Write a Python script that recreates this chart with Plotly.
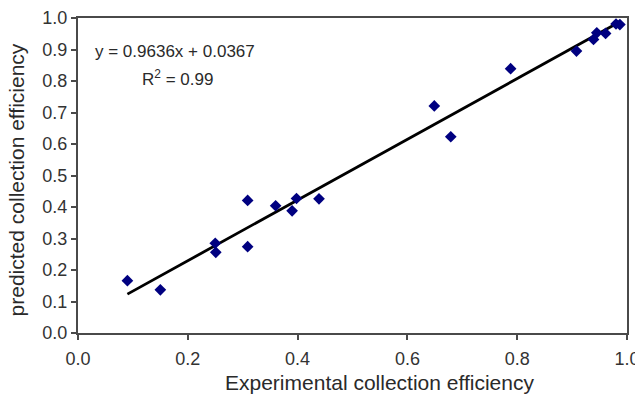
import plotly.graph_objects as go

# Data
experimental = [0.090, 0.150, 0.250, 0.251, 0.309, 0.309, 0.360, 0.390, 0.398, 0.439,
                0.649, 0.679, 0.788, 0.908, 0.939, 0.945, 0.961, 0.980, 0.987]
predicted = [0.166, 0.137, 0.285, 0.256, 0.421, 0.274, 0.404, 0.388, 0.427, 0.426,
             0.721, 0.623, 0.839, 0.895, 0.932, 0.953, 0.951, 0.981, 0.979]

slope = 0.9636
intercept = 0.0367
r_squared = 0.99

x_ticks = [0.0, 0.2, 0.4, 0.6, 0.8, 1.0]
y_ticks = [0.0, 0.1, 0.2, 0.3, 0.4, 0.5, 0.6, 0.7, 0.8, 0.9, 1.0]

x_title = "Experimental collection efficiency"
y_title = "predicted collection efficiency"

fit_x = [min(experimental), max(experimental)]
fit_y = [slope * v + intercept for v in fit_x]

fig = go.Figure()
fig.add_trace(go.Scatter(
    x=fit_x, y=fit_y, mode="lines",
    line=dict(color="black", width=2.8), hoverinfo="skip", showlegend=False,
))
fig.add_trace(go.Scatter(
    x=experimental, y=predicted, mode="markers",
    marker=dict(symbol="diamond", color="#000080", size=9),
    cliponaxis=False, showlegend=False,
))

text_color = "#2a2a2a"
fig.add_annotation(x=0.027, y=0.893, xref="x", yref="y", xanchor="left", yanchor="middle",
                   text=f"y = {slope}x + {intercept}", showarrow=False,
                   font=dict(size=17, color=text_color))
fig.add_annotation(x=0.181, y=0.81, xref="x", yref="y", xanchor="center", yanchor="middle",
                   text=f"R<sup>2</sup> = {r_squared}", showarrow=False,
                   font=dict(size=17, color=text_color))
fig.add_annotation(x=0.55, y=-0.113, xref="paper", yref="paper", xanchor="center", yanchor="top",
                   text=x_title, showarrow=False, font=dict(size=21, color=text_color))
fig.add_annotation(x=-0.112, y=0.486, xref="paper", yref="paper", xanchor="center", yanchor="middle",
                   text=y_title, textangle=-90, showarrow=False, font=dict(size=21, color=text_color))

axis_common = dict(
    showgrid=False, zeroline=False, showline=True, linecolor="#4a4a4a", linewidth=2,
    mirror=True, ticks="outside", ticklen=5, tickcolor="#4a4a4a", tickwidth=1.5,
    tickfont=dict(size=18, color="#333"), tickformat=".1f", automargin=False,
    ticklabeloverflow="allow", range=[0, 1],
)

fig.update_layout(
    width=635, height=395,
    margin=dict(l=78, r=8, t=18, b=62),
    paper_bgcolor="white", plot_bgcolor="white",
    font=dict(family="Liberation Sans, Arial, sans-serif"),
    xaxis=dict(tickvals=x_ticks, ticklabelstandoff=3, **axis_common),
    yaxis=dict(tickvals=y_ticks, **axis_common),
)

# remove the browser's default 8px body margin so the figure fills the window
fig.write_html(
    "out.html",
    config={"displayModeBar": False},
    post_script="document.body.style.margin='0';document.body.style.overflow='hidden';",
)
